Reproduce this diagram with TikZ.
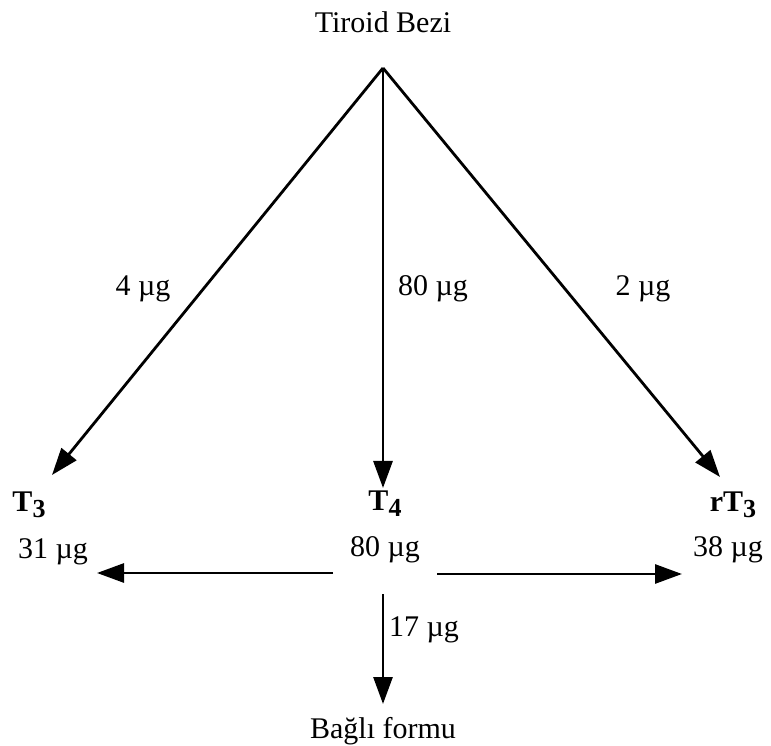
\documentclass[tikz,border=0pt]{standalone}
\usepackage{fontspec}
\setmainfont{Liberation Serif}
\usetikzlibrary{arrows.meta,positioning}
\newcommand{\tsub}[1]{\raisebox{-6pt}{\fontsize{26}{28}\selectfont #1}}

\begin{document}
\begin{tikzpicture}[
    x=1pt, y=1pt,
    lbl/.style={inner sep=0pt, font=\fontsize{30}{32}\selectfont},
    hormon/.style={inner sep=0pt, font=\fontsize{30}{32}\selectfont\bfseries},
    arr/.style={-{Triangle[length=27pt, width=19pt]}, line width=2.8pt}
]
\useasboundingbox (0,0) rectangle (771,745);
% gland
\node[lbl] (tb) at (383,723) {Tiroid Bezi};
\coordinate (apex) at (383,677);
% hormones
\node[hormon] (t3) at (29,240) {T\tsub{3}};
\node[hormon] (t4) at (385,241) {T\tsub{4}};
\node[hormon] (rt3) at (733,240) {rT\tsub{3}};
\coordinate (t3tip) at (52,270);
\coordinate (t4tip) at (383,257);
\coordinate (rt3tip) at (720,268);
% amounts
\node[lbl] (m31) at (53,193) {31 µg};
\node[lbl] (m80) at (385,195) {80 µg};
\node[lbl] (m38) at (728,195) {38 µg};
\node[lbl] (bf) at (383,14) {Bağlı formu};
\coordinate (lstart) at (333,172);
\coordinate (lend) at (97,172);
\coordinate (rstart) at (437,171);
\coordinate (rend) at (682,171);
\coordinate (dstart) at (383,151);
\coordinate (dend) at (383,41);
% arrows
\draw[arr] (apex) -- (t3tip);
\draw[arr] (apex) -- (t4tip);
\draw[arr] (apex) -- (rt3tip);
\draw[arr] (lstart) -- (lend);
\draw[arr] (rstart) -- (rend);
\draw[arr] (dstart) -- (dend);
% arrow labels
\node[lbl] (a4) at (143,456) {4 µg};
\node[lbl] (a80) at (433,456) {80 µg};
\node[lbl] (a2) at (643,456) {2 µg};
\node[lbl] (a17) at (424,115) {17 µg};
\end{tikzpicture}
\end{document}
